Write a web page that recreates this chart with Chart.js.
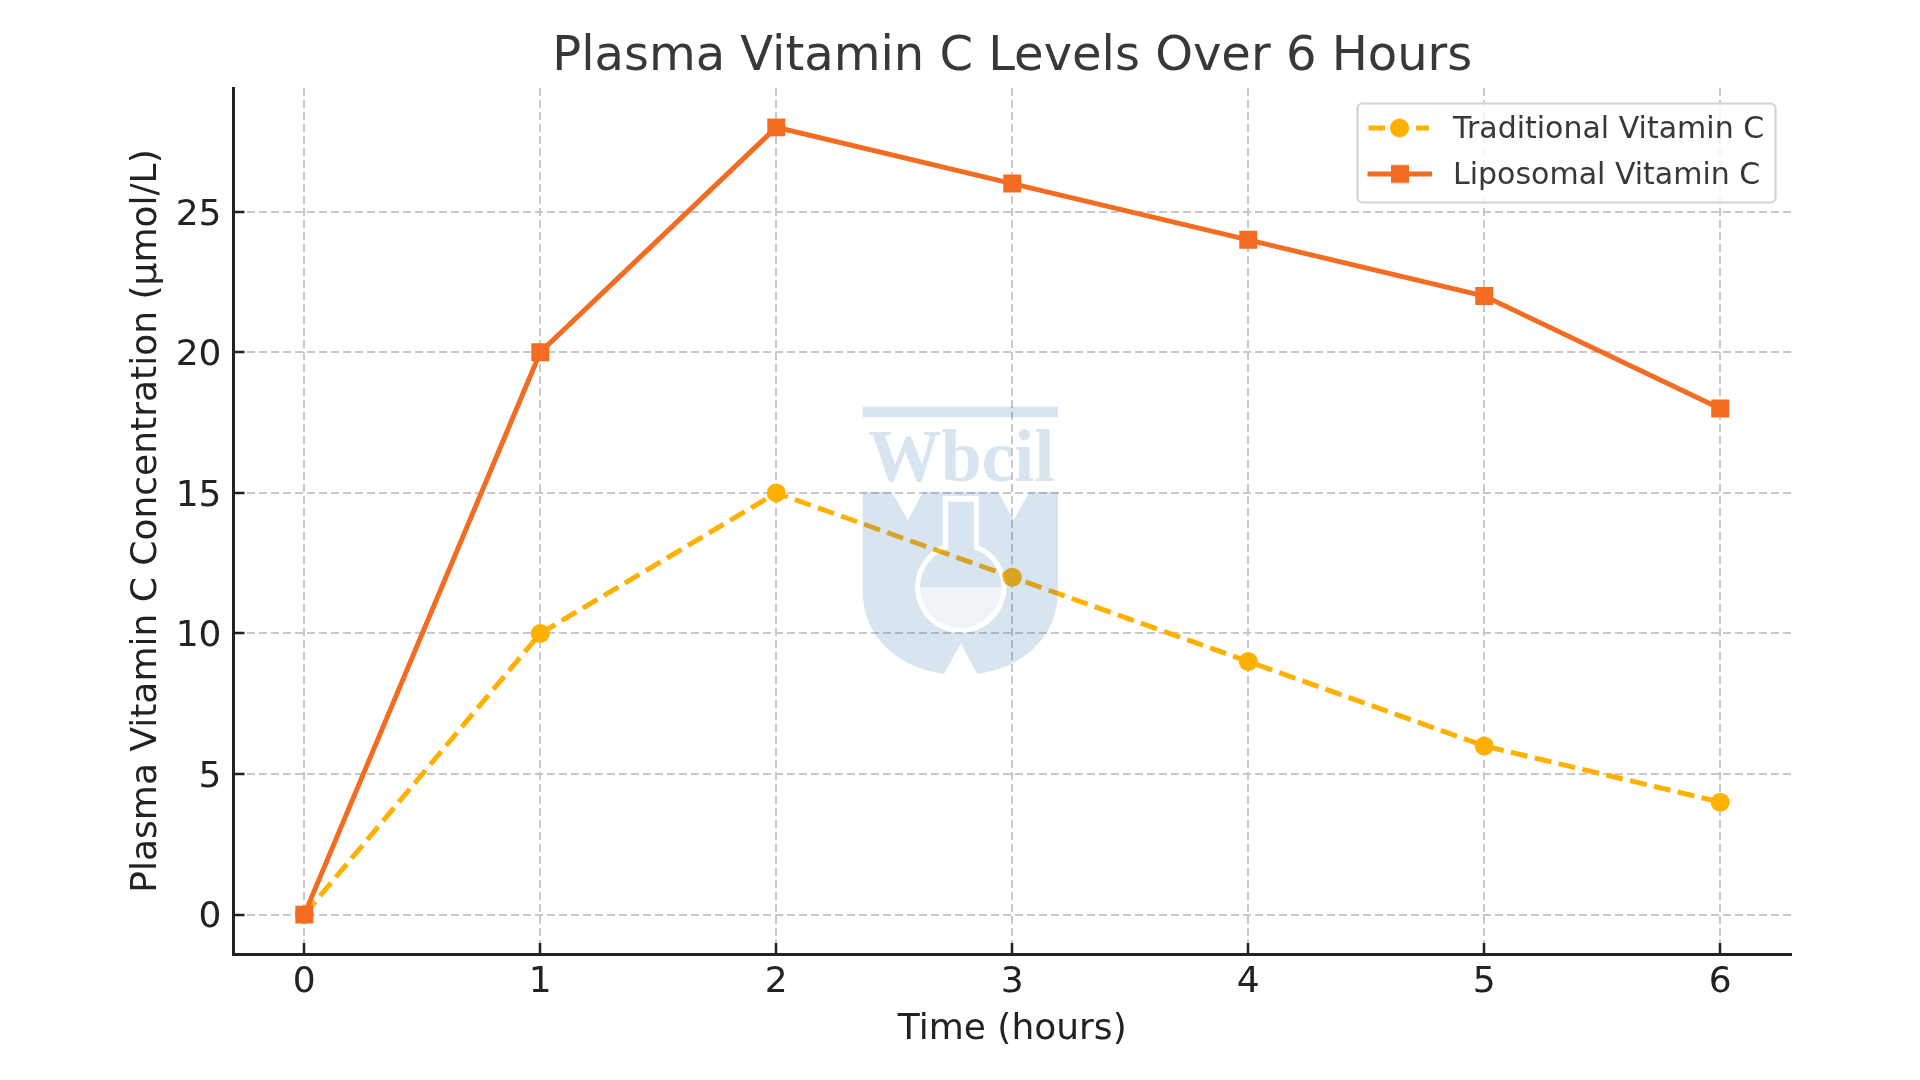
<!DOCTYPE html>
<html><head><meta charset="utf-8">
<style>html,body{margin:0;padding:0;background:#fff}canvas{display:block}</style>
<script src="https://cdn.jsdelivr.net/npm/chart.js@4/dist/chart.umd.min.js"></script>
</head><body><canvas id="c" width="1920" height="1080"></canvas>
<script>
const hours = [0, 1, 2, 3, 4, 5, 6];
const traditional = [0, 10, 15, 12, 9, 6, 4];
const liposomal = [0, 20, 28, 26, 24, 22, 18];
const yTicks = [0, 5, 10, 15, 20, 25];
const titleText = 'Plasma Vitamin C Levels Over 6 Hours';
const xTitle = 'Time (hours)';
const yTitle = 'Plasma Vitamin C Concentration (µmol/L)';
const seriesNames = ['Traditional Vitamin C', 'Liposomal Vitamin C'];
const AMBER = '#FFB000', ORANGE = '#F36C21', DARK = '#222222', FONT = '"DejaVu Sans"';

function handle(kind) {
  const cv = document.createElement('canvas');
  cv.width = 71; cv.height = 36;
  const g = cv.getContext('2d'), my = 15.5;
  g.lineWidth = 5;
  if (kind === 0) {
    g.strokeStyle = AMBER; g.fillStyle = AMBER;
    g.beginPath(); g.moveTo(1.5, my); g.lineTo(18, my); g.moveTo(49, my); g.lineTo(62, my); g.stroke();
    g.beginPath(); g.arc(32.5, my, 9.5, 0, Math.PI * 2); g.fill();
  } else {
    g.strokeStyle = ORANGE; g.fillStyle = ORANGE;
    g.beginPath(); g.moveTo(0.5, my); g.lineTo(65, my); g.stroke();
    g.fillRect(24, my - 9, 18, 18);
  }
  return cv;
}
const handles = [handle(0), handle(1)];

const legendPlacer = {
  id: 'legendPlacer',
  afterLayout(chart) {
    const l = chart.legend;
    const w = l.width, h = l.height;
    l.left = 1367 - 16; l.top = 99.5; l.right = l.left + w; l.bottom = l.top + h;
    if (!l.framed) {
      l.framed = true;
      const inner = l.draw;
      l.draw = function (area) {
        const c = chart.ctx;
        c.save();
        c.beginPath(); c.roundRect(1357.5, 103.5, 418, 99, 5);
        c.fillStyle = 'rgba(255,255,255,0.8)'; c.fill();
        c.lineWidth = 2.2; c.strokeStyle = '#D4D4D4'; c.stroke();
        c.restore();
        inner.call(l, area);
      };
    }
  }
};

const watermark = {
  id: 'watermark',
  afterDraw(chart) {
    const off = document.createElement('canvas');
    off.width = 1920; off.height = 1080;
    const g = off.getContext('2d');
    g.fillStyle = 'rgb(60,120,180)';
    g.fillRect(862.7, 406.7, 195.3, 10.5);
    g.font = 'bold 73px "Liberation Serif"';
    g.textBaseline = 'alphabetic';
    g.fillText('Wbcil', 868, 481);
    g.beginPath();
    g.moveTo(862.7, 491.7); g.lineTo(891.7, 491.7); g.lineTo(907.7, 520); g.lineTo(923.3, 491.7);
    g.lineTo(998, 491.7); g.lineTo(1013.7, 520); g.lineTo(1029.7, 491.7); g.lineTo(1058, 491.7);
    g.lineTo(1058, 590);
    g.bezierCurveTo(1058, 640, 1020, 668, 977.3, 674);
    g.lineTo(960.7, 643.3); g.lineTo(944, 674);
    g.bezierCurveTo(901, 668, 862.7, 640, 862.7, 590);
    g.closePath(); g.fill();
    const cx = 960.7, cy = 587.3;
    g.globalCompositeOperation = 'destination-out';
    g.beginPath(); g.rect(942.7, 496, 36, 60); g.fill();
    g.beginPath(); g.arc(cx, cy, 45.7, 0, Math.PI * 2); g.fill();
    g.globalCompositeOperation = 'source-over';
    g.beginPath(); g.rect(948.3, 501.7, 25.7, 60); g.fill();
    g.beginPath(); g.arc(cx, cy, 40.7, Math.PI, 0); g.fill();
    g.globalAlpha = 0.4;
    g.beginPath(); g.arc(cx, cy, 40.7, 0, Math.PI); g.fill();
    const c = chart.ctx;
    c.save(); c.globalAlpha = 0.2; c.drawImage(off, 0, 0); c.restore();
  }
};

new Chart(document.getElementById('c'), {
  type: 'line',
  data: {
    datasets: [
      { label: seriesNames[0], data: hours.map((h, i) => ({ x: h, y: traditional[i] })), order: 1,
        borderColor: AMBER, backgroundColor: AMBER, borderWidth: 5, borderDash: [17, 7.5],
        pointStyle: 'circle', pointRadius: 9.5, pointBorderWidth: 0, tension: 0, fill: false },
      { label: seriesNames[1], data: hours.map((h, i) => ({ x: h, y: liposomal[i] })), order: 0,
        borderColor: ORANGE, backgroundColor: ORANGE, borderWidth: 5,
        pointStyle: 'rect', pointRadius: 12.7, pointBorderWidth: 0, tension: 0, fill: false }
    ]
  },
  options: {
    responsive: false, animation: false, devicePixelRatio: 1,
    layout: { padding: { left: 0, top: 0, right: 129, bottom: 0 } },
    plugins: {
      tooltip: { enabled: false },
      title: { display: true, text: titleText, color: '#383838', fullSize: false,
        font: { family: FONT, size: 48, weight: 'normal', lineHeight: 1.2 },
        padding: { top: 29, bottom: 1.4 } },
      legend: { display: true, position: 'chartArea', align: 'start',
        labels: { usePointStyle: true, pointStyleWidth: 71, padding: 16, color: '#383838',
          font: { family: FONT, size: 30, lineHeight: 1.2 },
          generateLabels: (chart) => chart.data.datasets.map((d, i) => ({
            text: d.label, datasetIndex: i, pointStyle: handles[i], hidden: false,
            fontColor: '#383838', lineWidth: 0, strokeStyle: 'transparent', fillStyle: 'transparent'
          }))
        }
      }
    },
    scales: {
      x: { type: 'linear', min: -0.3, max: 6.3,
        afterFit(s) { s.height = 126; },
        border: { display: true, color: DARK, width: 3, dash: [8, 4] },
        grid: { color: '#C8C8C8', lineWidth: 2, tickColor: DARK, tickWidth: 2.5, tickLength: -11 },
        ticks: { stepSize: 1, includeBounds: false, autoSkip: false, maxRotation: 0, padding: 18, color: DARK,
          font: { family: FONT, size: 36 } },
        title: { display: true, text: xTitle, color: DARK, font: { family: FONT, size: 36, lineHeight: 1.2 },
          padding: { top: 0, bottom: 29 } } },
      y: { type: 'linear', min: -1.4, max: 29.4,
        afterFit(s) {
          s.width = 233.5;
          if (!s.shifted) {
            s.shifted = true;
            const compute = s._computeLabelItems;
            s._computeLabelItems = function (area) {
              const items = compute.call(this, area);
              items.forEach(it => { it.options.translation[1] += 3.5; });
              return items;
            };
          }
        },
        afterBuildTicks(s) { s.ticks = yTicks.map(v => ({ value: v })); },
        border: { display: true, color: DARK, width: 3, dash: [8, 4] },
        grid: { color: '#C8C8C8', lineWidth: 2, tickColor: DARK, tickWidth: 2.5, tickLength: -11 },
        ticks: { stepSize: 5, includeBounds: false, padding: 23, color: DARK, font: { family: FONT, size: 36 } },
        title: { display: true, text: yTitle, color: DARK, font: { family: FONT, size: 36, lineHeight: 1.2 },
          padding: { top: 125, bottom: 0 } } }
    }
  },
  plugins: [legendPlacer, watermark]
});
</script></body></html>
